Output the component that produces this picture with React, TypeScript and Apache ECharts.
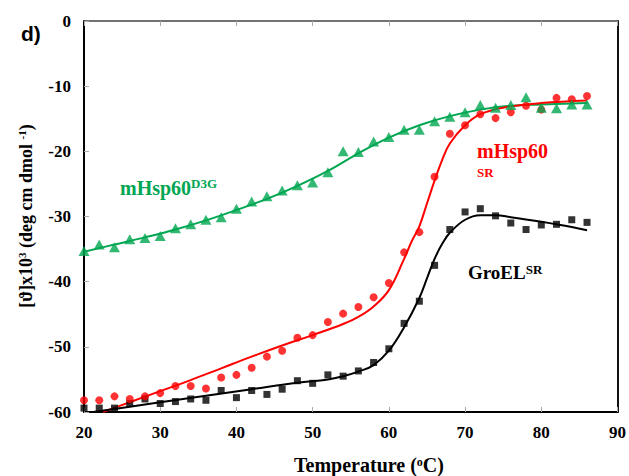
import React, { useEffect, useRef } from "react";
import * as echarts from "echarts";

const temps = [20, 22, 24, 26, 28, 30, 32, 34, 36, 38, 40, 42, 44, 46, 48, 50, 52, 54, 56, 58, 60, 62, 64, 66, 68, 70, 72, 74, 76, 78, 80, 82, 84, 86];

const groelSR = [-59.4, -59.4, -59.4, -58.7, -58.0, -58.7, -58.4, -58.0, -58.2, -56.7, -57.8, -56.7, -57.3, -56.5, -55.2, -55.6, -54.3, -54.5, -53.7, -52.4, -50.3, -46.4, -43.0, -37.5, -32.0, -29.3, -28.8, -29.9, -31.0, -32.0, -31.3, -31.2, -30.5, -30.9];

const mhspSR = [-58.2, -58.2, -57.6, -58.0, -57.6, -57.1, -56.0, -56.0, -56.4, -54.7, -54.3, -53.2, -51.5, -50.6, -48.6, -48.2, -46.2, -44.9, -43.9, -42.4, -40.2, -35.5, -32.4, -23.9, -17.3, -16.0, -14.3, -14.9, -14.0, -13.0, -13.6, -11.8, -12.0, -11.5];

const mhspD3G = [-35.3, -34.3, -34.7, -33.5, -33.3, -33.0, -31.8, -31.2, -30.5, -30.1, -28.8, -27.7, -26.9, -26.0, -25.2, -24.8, -23.2, -20.0, -20.1, -18.5, -17.8, -16.7, -16.7, -15.4, -14.7, -14.0, -12.9, -13.3, -12.9, -11.7, -13.3, -13.4, -12.8, -12.8];

// fitted curves
const fitD3GT = [20, 24, 28, 32, 36, 40, 44, 48, 52, 56, 60, 64, 68, 72, 76, 80, 86];
const fitD3GV = [-35.4, -34.3, -33.2, -32.0, -30.6, -29.0, -27.3, -25.3, -23.0, -20.3, -17.9, -16.0, -14.6, -13.6, -13.0, -12.8, -12.6];

const fitSRT = [22.5, 26, 30, 34, 38, 42, 46, 50, 54, 56, 58, 60, 62, 63, 64, 65, 66, 67, 68, 70, 72, 75, 80, 86];
const fitSRV = [-60, -58.5, -56.8, -55.1, -53.3, -51.5, -49.8, -48.2, -46.5, -45.4, -43.8, -41.3, -36.5, -33.8, -31.5, -28.0, -24.5, -21.3, -18.8, -16.0, -14.3, -13.3, -12.6, -12.2];

const fitGroT = [21.2, 26, 30, 36, 42, 48, 52, 54, 56, 58, 60, 62, 64, 65, 66, 67, 68, 70, 72, 74, 76, 80, 84, 86];
const fitGroV = [-60, -59.2, -58.5, -57.5, -56.5, -55.5, -55.0, -54.5, -53.8, -52.8, -50.6, -47.0, -42.5, -39.5, -36.5, -34.2, -32.5, -30.5, -29.8, -29.8, -30.1, -30.8, -31.6, -32.1];

const GREEN = "#00a651";
const RED = "#ff0000";
const BLACK = "#000000";
const SERIF = "'Liberation Serif', 'Times New Roman', serif";

const zip = (xs: number[], ys: number[]) => xs.map((x, i) => [x, ys[i]]);

type Piece = { t: string; size: number; rise: number };

function measure(t: string, size: number) {
  const c = document.createElement("canvas").getContext("2d")!;
  c.font = `bold ${size}px 'Liberation Serif'`;
  return c.measureText(t).width;
}

// builds a run of text pieces (with superscripts) as separate graphic texts
function run(pieces: Piece[], x: number, y: number, color: string, align: "left" | "center", rotate = false) {
  const widths = pieces.map((p) => measure(p.t, p.size));
  const total = widths.reduce((a, b) => a + b, 0);
  let pos = align === "center" ? -total / 2 : 0;
  const out: any[] = [];
  pieces.forEach((p, i) => {
    const along = pos;
    const px = rotate ? x - p.rise : x + along;
    const py = rotate ? y - along : y - p.rise;
    out.push({
      type: "text",
      x: px,
      y: py,
      rotation: rotate ? Math.PI / 2 : 0,
      style: { text: p.t, fontFamily: SERIF, fontWeight: "bold", fontSize: p.size, fill: color, align: "left", verticalAlign: "middle" },
    });
    pos += widths[i];
  });
  return out;
}

export default function App() {
  const ref = useRef<HTMLDivElement>(null);
  useEffect(() => {
    document.body.style.margin = "0";
    const chart = echarts.init(ref.current!, null, { renderer: "svg" });
    const label = { fontFamily: SERIF, fontWeight: "bold", fontSize: 17, color: "#000" };
    const graphic: any[] = [
      { type: "text", x: 21, y: 33, style: { text: "d)", fontFamily: "'Liberation Sans', Arial, sans-serif", fontWeight: "bold", fontSize: 21, fill: "#000", verticalAlign: "middle" } },
      ...run([{ t: "mHsp60", size: 20, rise: 0 }, { t: "D3G", size: 13, rise: 4 }], 120, 187.5, GREEN, "left"),
      { type: "text", x: 477, y: 150.5, style: { text: "mHsp60", fontFamily: SERIF, fontWeight: "bold", fontSize: 20, fill: RED, verticalAlign: "middle" } },
      { type: "text", x: 477, y: 172.5, style: { text: "SR", fontFamily: SERIF, fontWeight: "bold", fontSize: 13, fill: RED, verticalAlign: "middle" } },
      ...run([{ t: "GroEL", size: 19, rise: 0 }, { t: "SR", size: 13, rise: 3.5 }], 468, 272.5, BLACK, "left"),
      ...run([{ t: "Temperature (", size: 20, rise: 0 }, { t: "o", size: 12, rise: 3.5 }, { t: "C)", size: 20, rise: 0 }], 369, 465, BLACK, "center"),
      ...run(
        [
          { t: "[ϑ]x10", size: 18, rise: 0 },
          { t: "3", size: 11, rise: 4 },
          { t: " (deg cm dmol ", size: 18, rise: 0 },
          { t: "-1", size: 11, rise: 4 },
          { t: ")", size: 18, rise: 0 },
        ],
        26, 216, BLACK, "center", true
      ),
    ];
    chart.setOption({
      animation: false,
      backgroundColor: "#fff",
      grid: { left: 84, right: 9, top: 21, bottom: 64 },
      xAxis: [
        {
          type: "value", min: 20, max: 90, interval: 10, position: "bottom",
          axisLine: { show: true, onZero: false, lineStyle: { color: "#000", width: 2 } },
          axisTick: { show: true, inside: true, length: 5, lineStyle: { color: "#aaa" } },
          axisLabel: { ...label, margin: 12 },
          splitLine: { show: false },
        },
        {
          type: "value", min: 20, max: 90, interval: 10, position: "top",
          axisLine: { show: true, lineStyle: { color: "#444", width: 1.5 } },
          axisTick: { show: true, inside: true, length: 5, lineStyle: { color: "#aaa" } },
          axisLabel: { show: false },
          splitLine: { show: false },
        },
      ],
      yAxis: [
        {
          type: "value", min: -60, max: 0, interval: 10, position: "left",
          axisLine: { show: true, onZero: false, lineStyle: { color: "#000", width: 2 } },
          axisTick: { show: true, inside: true, length: 5, lineStyle: { color: "#aaa" } },
          axisLabel: { ...label, margin: 13 },
          splitLine: { show: false },
        },
        {
          type: "value", min: -60, max: 0, interval: 10, position: "right",
          axisLine: { show: true, lineStyle: { color: "#111", width: 2 } },
          axisTick: { show: false },
          axisLabel: { show: false },
          splitLine: { show: false },
        },
      ],
      series: [
        { type: "line", data: zip(fitD3GT, fitD3GV), smooth: 0.4, showSymbol: false, lineStyle: { color: GREEN, width: 2 }, z: 2 },
        { type: "line", data: zip(fitSRT, fitSRV), smooth: 0.4, showSymbol: false, lineStyle: { color: RED, width: 2 }, z: 2 },
        { type: "line", data: zip(fitGroT, fitGroV), smooth: 0.4, showSymbol: false, lineStyle: { color: BLACK, width: 2 }, z: 2 },
        { type: "scatter", data: zip(temps, groelSR), symbol: "rect", symbolSize: 7, itemStyle: { color: BLACK }, z: 3 },
        { type: "scatter", data: zip(temps, mhspSR), symbol: "circle", symbolSize: 8, itemStyle: { color: RED }, z: 3 },
        { type: "scatter", data: zip(temps, mhspD3G), symbol: "triangle", symbolSize: [11, 10], itemStyle: { color: GREEN }, z: 4 },
      ],
      graphic,
    });
    return () => chart.dispose();
  }, []);
  return <div ref={ref} style={{ position: "fixed", left: 0, top: 0, width: 629, height: 476 }} />;
}
